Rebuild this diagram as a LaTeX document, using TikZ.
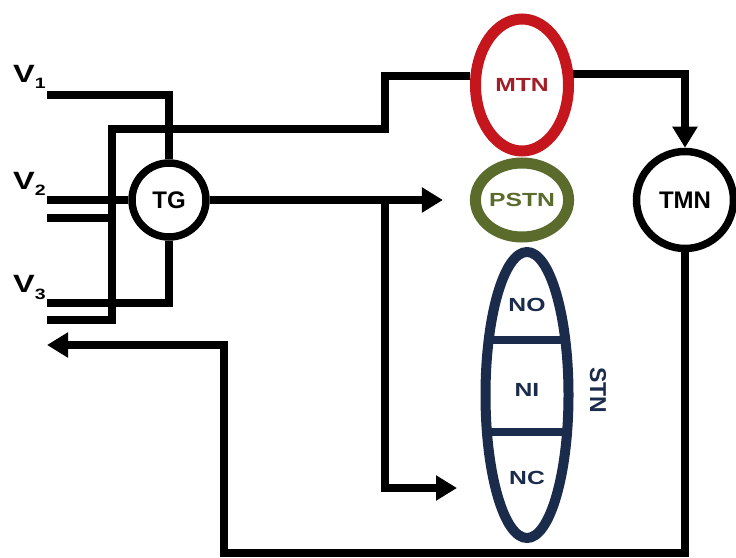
\documentclass[tikz,border=0pt]{standalone}
\usepackage{fontspec}
\setmainfont{Liberation Sans}
\newfontfamily\widesans{Liberation Sans}[FakeStretch=1.3]
\usepackage{xcolor}
\usetikzlibrary{arrows.meta,calc,shapes.geometric}
\definecolor{mtnred}{HTML}{C4161C}
\definecolor{mtnink}{HTML}{A31E26}
\definecolor{pstngreen}{HTML}{5A6B2B}
\definecolor{stnnavy}{HTML}{1B2B4B}
\tikzset{
    every picture/.style={line cap=butt,line join=miter},
    wire/.style={draw=black,line width=7.5bp},
    flowarrow/.style={wire,-{Triangle[length=21bp,width=24bp]}},
    ringnode/.style={draw=black,circle,line width=7.5bp,fill=white,
      inner sep=0pt,font=\bfseries\fontsize{24bp}{26bp}\selectfont},
    ovalnode/.style={ellipse,line width=11bp,fill=white,inner sep=0pt,
      font=\widesans\bfseries\fontsize{19bp}{21bp}\selectfont},
    celltext/.style={text=stnnavy,inner sep=0pt,
      font=\widesans\bfseries\fontsize{19bp}{21bp}\selectfont},
    inlabel/.style={anchor=base west,inner sep=0pt,
      font=\widesans\bfseries\fontsize{25bp}{28bp}\selectfont}
}
\newcommand{\vlabel}[1]{V\raisebox{-6bp}{\fontsize{15bp}{15bp}\selectfont #1}}

\begin{document}
\begin{tikzpicture}[x=1bp,y=-1bp]
  \useasboundingbox (0,0) rectangle (736,558);
  % generator and networks
  \node[ringnode,minimum size=74bp] (tg) at (169,200) {TG};
  \node[ringnode,minimum size=97bp] (tmn) at (685,200) {TMN};
  \node[ovalnode,draw=mtnred,text=mtnink,minimum width=93bp,minimum height=132bp] (mtn) at (522,85) {MTN};
  \node[ovalnode,draw=pstngreen,text=pstngreen,minimum width=93bp,minimum height=74bp] (pstn) at (522,200) {PSTN};
  \node[ovalnode,draw=stnnavy,line width=10bp,minimum width=83bp,minimum height=286bp] (stn) at (527,395) {};
  \draw[stnnavy,line width=8bp] ($(stn.center)+(-39,-55)$) -- ($(stn.center)+(39,-55)$);
  \draw[stnnavy,line width=8bp] ($(stn.center)+(-40,37)$) -- ($(stn.center)+(40,37)$);
  \node[celltext] (no) at (527,305) {NO};
  \node[celltext] (ni) at (527,390) {NI};
  \node[celltext] (nc) at (527,478) {NC};
  \node[rotate=-90,text=stnnavy,font=\bfseries\fontsize{23bp}{26bp}\selectfont] (stnlabel) at (598,390) {STN};
  % inputs
  \node[inlabel] (v1) at (13,83) {\vlabel{1}};
  \node[inlabel] (v2) at (13,190) {\vlabel{2}};
  \node[inlabel] (v3) at (13,293) {\vlabel{3}};
  \coordinate (v1in) at (47,95);
  \coordinate (v2in) at (47,200);
  \coordinate (v2tap) at (47,218);
  \coordinate (v3in) at (47,303);
  \coordinate (v3tap) at (47,320);
  \coordinate (bus) at (112,129);
  \coordinate (riser) at (385,129);
  \coordinate (split) at (385,200);
  \coordinate (ncin) at (457,488);
  \coordinate (loop) at (224,553);
  \coordinate (fbout) at (47,345);
  % wiring
  \draw[wire] (v1in) -| (tg.north);
  \draw[wire] (v2in) -- (tg.west);
  \draw[wire] (v2tap) -- (v2tap -| bus);
  \draw[wire] (v3in) -| (tg.south);
  \draw[wire] (v3tap) -| (bus) -- (riser) |- (mtn.170);
  \draw[flowarrow] (mtn.12) -| (tmn.north);
  \draw[flowarrow,shorten >=27bp] (tg.east) -- (pstn.west);
  \draw[flowarrow] (split) |- (ncin);
  \draw[flowarrow] (tmn.south) |- (loop) |- (fbout);
\end{tikzpicture}
\end{document}
